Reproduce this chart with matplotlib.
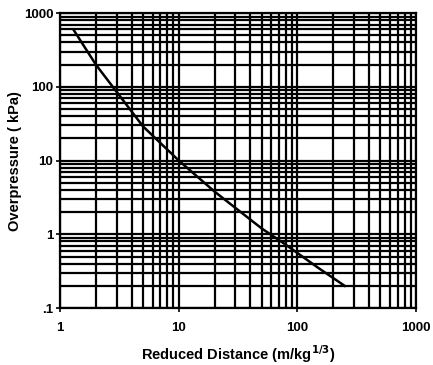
import matplotlib.pyplot as plt
from matplotlib.ticker import FixedLocator, LogLocator, NullFormatter

# values
distance = [1.3, 2, 3, 5, 10, 20, 50, 80, 150, 250]
overpressure = [590, 200, 85, 29, 10, 3.8, 1.2, 0.72, 0.35, 0.2]

x_ticks = [1, 10, 100, 1000]
x_labels = ['1', '10', '100', '1000']
y_ticks = [0.1, 1, 10, 100, 1000]
y_labels = ['.1', '1', '10', '100', '1000']

plt.rcParams['font.family'] = ['Liberation Sans', 'DejaVu Sans']

fig = plt.figure(figsize=(4.33, 3.65), dpi=100)
ax = fig.add_axes([0.139, 0.156, 0.822, 0.808])

ax.plot(distance, overpressure, color='black', lw=1.8, zorder=3)

ax.set_xscale('log')
ax.set_yscale('log')
ax.set_xlim(1, 1000)
ax.set_ylim(0.1, 1000)

ax.xaxis.set_major_locator(FixedLocator(x_ticks))
ax.set_xticklabels(x_labels)
ax.yaxis.set_major_locator(FixedLocator(y_ticks))
ax.set_yticklabels(y_labels)
ax.xaxis.set_minor_locator(LogLocator(base=10, subs=range(2, 10)))
ax.yaxis.set_minor_locator(LogLocator(base=10, subs=range(2, 10)))
ax.xaxis.set_minor_formatter(NullFormatter())
ax.yaxis.set_minor_formatter(NullFormatter())

# heavy grid everywhere, like printed log paper
ax.grid(True, which='both', color='black', lw=1.6)
ax.tick_params(which='minor', length=0)
ax.tick_params(which='major', length=3, width=1.2, labelsize=9.5)
ax.tick_params(axis='y', pad=2)
ax.tick_params(axis='x', pad=7)
for lab in ax.get_xticklabels() + ax.get_yticklabels():
    lab.set_fontweight('bold')
for s in ax.spines.values():
    s.set_linewidth(1.6)

ax.set_xlabel('Reduced Distance (m/kg$^{\\mathbf{1/3}}$)', fontsize=10.5, fontweight='bold', labelpad=7)
ax.set_ylabel('Overpressure ( kPa)', fontsize=10.5, fontweight='bold', labelpad=1)

fig.savefig('out.png', dpi=100)
